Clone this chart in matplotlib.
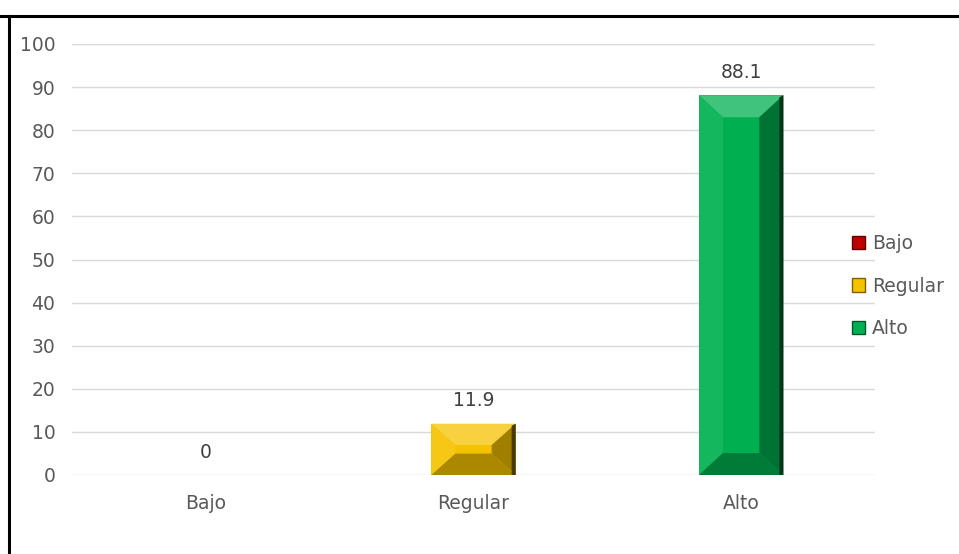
import matplotlib
matplotlib.use("Agg")
import matplotlib.pyplot as plt
from matplotlib.patches import Polygon, Patch
from matplotlib.lines import Line2D
import matplotlib.colors as mcolors
import numpy as np

categories = ["Bajo", "Regular", "Alto"]
values = [0, 11.9, 88.1]
labels = ["0", "11.9", "88.1"]
colors = ["#C00000", "#F5C200", "#00B050"]
yticks = list(range(0, 101, 10))

plt.rcParams['font.family'] = ['DejaVu Sans']
FS = 13.5

W, H = 959, 554
fig = plt.figure(figsize=(W / 100, H / 100), dpi=100)
ax = fig.add_axes([72 / W, (H - 475) / H, (875 - 72) / W, (475 - 44) / H])

x = np.arange(len(categories))
bars = ax.bar(x, values, width=0.315, color=colors, zorder=2)
ax.set_xlim(-0.5, len(categories) - 0.5)
ax.set_ylim(0, 100)
ax.set_yticks(yticks)
ax.set_xticks(x)
ax.set_xticklabels(categories)
ax.tick_params(axis='both', length=0, labelsize=FS, colors="#595959")
ax.tick_params(axis='y', pad=12)
ax.tick_params(axis='x', pad=14)
for s in ax.spines.values():
    s.set_visible(False)
ax.yaxis.grid(True, color="#D9D9D9", linewidth=1, zorder=0)
ax.set_axisbelow(True)


def shade(c, f):
    r, g, b = mcolors.to_rgb(c)
    if f >= 0:
        return (r + (1 - r) * f, g + (1 - g) * f, b + (1 - b) * f)
    return (r * (1 + f), g * (1 + f), b * (1 + f))


inv = ax.transData.inverted()
for bar, c in zip(bars, colors):
    h = bar.get_height()
    if h <= 0:
        continue
    x0, y0 = bar.get_x(), bar.get_y()
    x1, y1 = x0 + bar.get_width(), y0 + h
    (px0, py0) = ax.transData.transform((x0, y0))
    (px1, py1) = ax.transData.transform((x1, y1))
    d = min(22, (py1 - py0) / 2.4)
    dx = 24
    ix0, ix1 = px0 + dx, px1 - dx
    iy0, iy1 = py0 + d, py1 - d

    def P(pts):
        return inv.transform(np.array(pts))
    polys = [
        ([(px0, py1), (px1, py1), (ix1, iy1), (ix0, iy1)], shade(c, 0.25)),
        ([(px0, py0), (px0, py1), (ix0, iy1), (ix0, iy0)], shade(c, 0.08)),
        ([(px1, py0), (px1, py1), (ix1, iy1), (ix1, iy0)], shade(c, -0.35)),
        ([(px0, py0), (px1, py0), (ix1, iy0), (ix0, iy0)], shade(c, -0.3)),
    ]
    for pts, col in polys:
        ax.add_patch(Polygon(P(pts), closed=True, facecolor=col, edgecolor='none', zorder=3))
    ax.add_patch(Polygon(P([(px1 - 4, py0), (px1, py0), (px1, py1), (px1 - 4, py1 - 2)]),
                         closed=True, facecolor=shade(c, -0.7), edgecolor='none', zorder=4))

for xi, v, lab in zip(x, values, labels):
    ax.annotate(lab, (xi, v), xytext=(0, 16.5), textcoords='offset points',
                ha='center', va='center', fontsize=FS, color="#404040")

handles = [Patch(facecolor=c, edgecolor=shade(c, -0.5)) for c in colors]
fig.legend(handles, categories, loc='center left', bbox_to_anchor=(852 / W, (H - 286) / H),
           frameon=False, fontsize=FS, labelcolor="#595959", handlelength=0.7,
           handleheight=0.7, handletextpad=0.35, labelspacing=1.25,
           borderpad=0, borderaxespad=0)

fig.add_artist(Line2D([0, 1], [(H - 15.5) / H, (H - 15.5) / H], color='black', linewidth=2.2,
                      transform=fig.transFigure))
fig.add_artist(Line2D([9 / W, 9 / W], [0, (H - 15.5) / H], color='black', linewidth=2.2,
                      transform=fig.transFigure))

fig.savefig("out.png", dpi=100, facecolor='white')
